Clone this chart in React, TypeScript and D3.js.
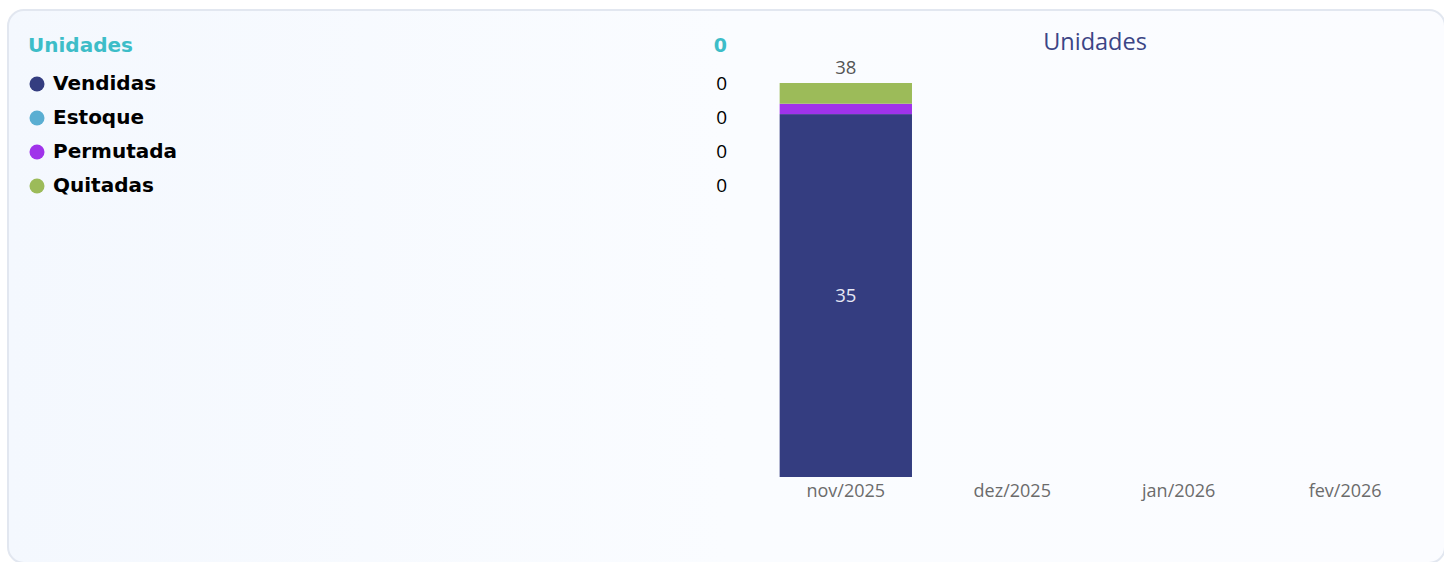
import React from 'react';
import * as d3 from 'd3';

const categories = ['nov/2025', 'dez/2025', 'jan/2026', 'fev/2026'];
const seriesNames = ['Vendidas', 'Estoque', 'Permutada', 'Quitadas'];
const vendidas = [35, 0, 0, 0];
const estoque = [0, 0, 0, 0];
const permutada = [1, 0, 0, 0];
const quitadas = [2, 0, 0, 0];
const legendValues = [0, 0, 0, 0];
const legendTotal = 0;
const legendTitle = 'Unidades';
const chartTitle = 'Unidades';

const colors = ['#343d80', '#5aaed2', '#a033ea', '#9cbb59'];

export default function App() {
  const W = 1444, H = 562;
  const rows = categories.map((c, i) => ({
    cat: c,
    Vendidas: vendidas[i],
    Estoque: estoque[i],
    Permutada: permutada[i],
    Quitadas: quitadas[i],
  }));
  const stack = d3.stack<any>().keys(seriesNames)(rows);
  const totals = rows.map((r) => seriesNames.reduce((s, k) => s + (r as any)[k], 0));
  const x = d3.scaleBand().domain(categories).range([763, 1428]).paddingInner(0.205).paddingOuter(0.1);
  const y = d3.scaleLinear().domain([0, d3.max(totals) || 1]).range([477, 83]);
  const legendFont = 'DejaVu Sans, Verdana, sans-serif';
  const chartFont = '"Open Sans", "Noto Sans", sans-serif';

  return (
    <svg width={W} height={H} style={{ position: 'absolute', left: 0, top: 0 }}>
      <defs>
        <linearGradient id="bg" x1="0" x2="1" y1="0" y2="0">
          <stop offset="0" stopColor="#f4f8fe" />
          <stop offset="0.5" stopColor="#fafcff" />
          <stop offset="1" stopColor="#fbfcff" />
        </linearGradient>
      </defs>
      <rect x={0} y={0} width={W} height={H} fill="#ffffff" />
      <rect x={8} y={10} width={1437} height={553} rx={16} ry={16} fill="url(#bg)" stroke="#e2e7f0" strokeWidth={2} />

      {/* Left legend */}
      <text x={28} y={52} fontFamily={legendFont} fontWeight="bold" fontSize={20} fill="#3dbdc8">{legendTitle}</text>
      <text x={727} y={52} textAnchor="end" fontFamily={legendFont} fontWeight="bold" fontSize={19} fill="#3dbdc8">{legendTotal}</text>
      {seriesNames.map((name, i) => {
        const cy = 84 + i * 34;
        return (
          <g key={name}>
            <circle cx={37} cy={cy} r={7.5} fill={colors[i]} />
            <text x={53} y={cy + 6} fontFamily={legendFont} fontWeight="bold" fontSize={20} fill="#000">{name}</text>
            <text x={727} y={cy + 6} textAnchor="end" fontFamily={chartFont} fontSize={19} fill="#000">{legendValues[i]}</text>
          </g>
        );
      })}

      {/* Chart title */}
      <text x={1095} y={50} textAnchor="middle" fontFamily={chartFont} fontSize={23.5} fill="#3b4585">{chartTitle}</text>

      {/* Bars */}
      {stack.map((s, si) => (
        <g key={s.key} fill={colors[si]}>
          {s.map((d, i) => {
            const h = y(d[0]) - y(d[1]);
            if (h <= 0) return null;
            return <rect key={i} x={x(categories[i])!} y={y(d[1])} width={x.bandwidth()} height={h} />;
          })}
        </g>
      ))}
      {/* Inner labels */}
      {stack.map((s, si) =>
        s.map((d, i) => {
          const h = y(d[0]) - y(d[1]);
          if (h < 30) return null;
          return (
            <text key={s.key + i} x={x(categories[i])! + x.bandwidth() / 2} y={(y(d[0]) + y(d[1])) / 2 + 6}
              textAnchor="middle" fontFamily={chartFont} fontSize={18.5} fill="#e6e8f4">{d[1] - d[0]}</text>
          );
        })
      )}
      {/* Totals */}
      {totals.map((t, i) =>
        t > 0 ? (
          <text key={i} x={x(categories[i])! + x.bandwidth() / 2} y={y(t) - 9} textAnchor="middle"
            fontFamily={chartFont} fontSize={18.5} fill="#555">{t}</text>
        ) : null
      )}
      {/* X axis labels */}
      {categories.map((c) => (
        <text key={c} x={x(c)! + x.bandwidth() / 2} y={497} textAnchor="middle" fontFamily={chartFont} fontSize={18} fill="#6b6b6b">{c}</text>
      ))}
    </svg>
  );
}
